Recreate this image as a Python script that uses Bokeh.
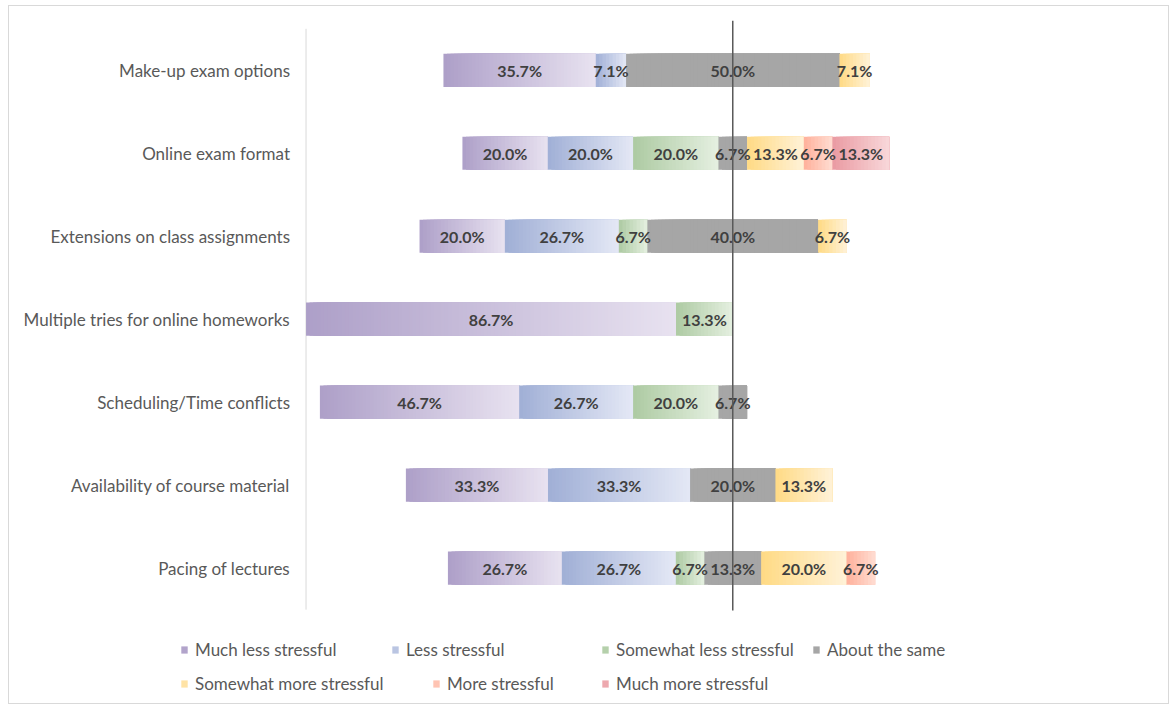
from bokeh.plotting import figure
from bokeh.models import Range1d, Legend, LegendItem, ColumnDataSource
from bokeh.core.properties import value
from bokeh.embed import file_html
from bokeh.resources import INLINE

categories = ["Make-up exam options", "Online exam format", "Extensions on class assignments",
              "Multiple tries for online homeworks", "Scheduling/Time conflicts",
              "Availability of course material", "Pacing of lectures"]
series = ["Much less stressful", "Less stressful", "Somewhat less stressful", "About the same",
          "Somewhat more stressful", "More stressful", "Much more stressful"]
much_less = [35.7, 20.0, 20.0, 86.7, 46.7, 33.3, 26.7]
less = [7.1, 20.0, 26.7, 0, 26.7, 33.3, 26.7]
somewhat_less = [0, 20.0, 6.7, 13.3, 20.0, 0, 6.7]
about_same = [50.0, 6.7, 40.0, 0, 6.7, 20.0, 13.3]
somewhat_more = [7.1, 13.3, 6.7, 0, 0, 13.3, 20.0]
more = [0, 6.7, 0, 0, 0, 0, 6.7]
much_more = [0, 13.3, 0, 0, 0, 0, 0]
values = [much_less, less, somewhat_less, about_same, somewhat_more, more, much_more]
# gradient fill of each series: darker start, lighter end
colors_dark = ["#AD9FC8", "#A0AFD6", "#ADCAA2", "#A6A6A6", "#FFDA84", "#FFB09A", "#EA9AA2"]
colors_light = ["#E8E2F0", "#E4E8F5", "#E5F0E1", "#A6A6A6", "#FFF2D8", "#FFDDD3", "#F8D8DA"]

n = len(categories)
ys = [n - 0.5 - i for i in range(n)]


def hex_to_rgb(h):
    return tuple(int(h[i:i + 2], 16) for i in (1, 3, 5))


def mix(c1, c2, t):
    a, b = hex_to_rgb(c1), hex_to_rgb(c2)
    return "#%02x%02x%02x" % tuple(round(x + (y - x) * t) for x, y in zip(a, b))


p = figure(width=1161, height=699, output_backend="svg", toolbar_location=None,
           x_axis_location=None, y_axis_location=None,
           x_range=Range1d(-169.49, 102.58), y_range=Range1d(-1.095, 7.1),
           min_border_left=0, min_border_right=0, min_border_top=14, min_border_bottom=5)
p.styles = {"border": "1px solid #D9D9D9", "margin-left": "8px", "margin-top": "5px"}
p.outline_line_color = None
p.grid.grid_line_color = None

# category axis: line at -100 % and right-aligned labels
axis_x = [-100, -100]
axis_y = [0.0, 7.0]
p.line(x=axis_x, y=axis_y, line_color="#D9D9D9", line_width=1)
p.text(x=[-100] * n, y=ys, text=categories, x_offset=-16, text_font=value("Lato"),
       text_font_size="17px", text_color="#595959", text_align="right", text_baseline="middle")

# starting point of each bar so that the neutral segment is centred on zero
starts = [-(a + b + c + d / 2) for a, b, c, d in zip(much_less, less, somewhat_less, about_same)]

renderers = []
lx, ly, lt = [], [], []
left = list(starts)
for s, vals, c0, c1 in zip(series, values, colors_dark, colors_light):
    right = [l + v for l, v in zip(left, vals)]
    sy, sl, sr, sc = [], [], [], []
    for y, l, rr, v in zip(ys, left, right, vals):
        if v <= 0:
            continue
        steps = max(8, int(round(v * 1.2)))
        for j in range(steps):
            sy.append(y)
            sl.append(l + v * j / steps)
            sr.append(rr)
            sc.append(mix(c0, c1, (j + 0.5) / steps))
        lx.append((l + rr) / 2)
        ly.append(y)
        lt.append(f"{v:.1f}%")
    src = ColumnDataSource(dict(y=sy, left=sl, right=sr, color=sc))
    r = p.hbar(y="y", left="left", right="right", height=0.4, source=src,
               fill_color="color", line_color=None)
    renderers.append(r)
    left = right

p.text(x=lx, y=ly, text=lt, text_font=value("Lato"), text_font_style="bold",
       text_font_size="16px", text_color="#404040", text_align="center", text_baseline="middle")

center_x = [0, 0]
center_y = [-0.01, 7.1]
p.line(x=center_x, y=center_y, line_color="#595959", line_width=1.5)

legend_pos = [(171, 40), (382, 40), (592, 40), (803, 40), (171, 6), (423, 6), (592, 6)]
for s, r, pos in zip(series, renderers, legend_pos):
    lg = Legend(items=[LegendItem(label=s, renderers=[r], index=3)], location=pos,
                glyph_width=8, glyph_height=9, label_height=16, label_standoff=7,
                padding=0, margin=0, spacing=0,
                border_line_color=None, background_fill_alpha=0,
                label_text_font="Lato", label_text_font_size="17px", label_text_color="#595959")
    p.add_layout(lg, "center")

open("out.html", "w").write(file_html(p, INLINE))
